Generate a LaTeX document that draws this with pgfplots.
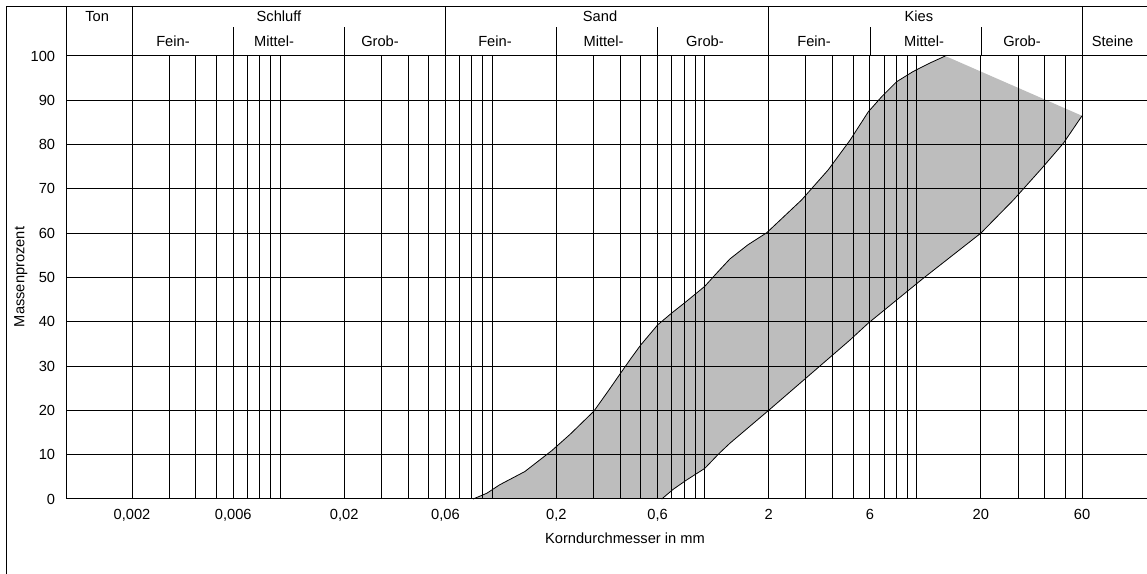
\documentclass[border=0pt]{standalone}
\usepackage{fontspec}
\setmainfont{Liberation Sans}
\usepackage{pgfplots}
\pgfplotsset{compat=1.18}
\definecolor{fillgray}{RGB}{189,189,189}
\begin{document}
\fontsize{11pt}{13pt}\selectfont
\begin{tikzpicture}[line width=0.75pt]
\path[use as bounding box] (-49.725pt,-56.25pt) rectangle (810.525pt,374.25pt);
\begin{axis}[
  at={(0pt,0pt)}, anchor=south west,
  scale only axis, width=815.25pt, height=332.25pt,
  xmode=log, xmin=0.00098, xmax=130, ymin=0, ymax=100,
  xtick={0.002,0.006,0.02,0.06,0.2,0.6,2,6,20,60},
  xticklabels={{0,002},{0,006},{0,02},{0,06},{0,2},{0,6},2,6,20,60},
  minor xtick={0.003,0.004,0.005,0.007,0.008,0.009,0.01,0.03,0.04,0.05,0.07,0.08,0.09,0.1,0.3,0.4,0.5,0.7,0.8,0.9,1,3,4,5,7,8,9,10,30,40,50},
  ytick={0,10,...,100},
  grid=both,
  major grid style={black, line width=0.75pt},
  minor grid style={black, line width=0.75pt},
  major tick length=0pt, minor tick length=0pt,
  axis line style={black, line width=0.75pt},
  axis on top,
  clip=false,
  xticklabel style={yshift=-3.5pt},
  yticklabel style={xshift=-4.5pt},
  /pgf/number format/assume math mode=true,
]
% filled band
\addplot[fill=fillgray, draw=none] coordinates {
 (0.081,0) (0.094,1.3) (0.108,3.2) (0.142,6.2) (0.19,10.9) (0.232,14.6)
 (0.3,19.8) (0.35,24.3) (0.4,28.3) (0.45,31.8) (0.5,34.8) (0.6,39.3)
 (0.7,42.0) (0.8,44.2) (0.9,46.2) (1.0,48.0) (1.17,51.6) (1.315,54.2)
 (1.6,57.4) (1.96,60.1)
 (2.86,67.5) (3.82,74.3) (4.84,81.0) (5.90,87.4) (6.82,90.8) (8.03,94.2)
 (9.6,96.5) (11.5,98.4) (13.6,100)
 (60,86.5) (49,80.3) (38.7,74.6) (28.5,67.5) (20,60) (10.7,49.8) (5.9,39.7)
 (4.84,35.9) (2,20) (1.315,12.6) (1.17,10.3) (1.0,6.9) (0.822,4.3) (0.711,2.2) (0.627,0)
} -- cycle;
% upper envelope
\addplot[black, line width=0.6pt] coordinates {
 (0.081,0) (0.094,1.3) (0.108,3.2) (0.142,6.2) (0.19,10.9) (0.232,14.6)
 (0.3,19.8) (0.35,24.3) (0.4,28.3) (0.45,31.8) (0.5,34.8) (0.6,39.3)
 (0.7,42.0) (0.8,44.2) (0.9,46.2) (1.0,48.0) (1.17,51.6) (1.315,54.2)
 (1.6,57.4) (1.96,60.1)
 (2.86,67.5) (3.82,74.3) (4.84,81.0) (5.90,87.4) (6.82,90.8) (8.03,94.2)
 (9.6,96.5) (11.5,98.4) (13.6,100)
};
% lower envelope
\addplot[black, line width=0.6pt] coordinates {
 (60,86.5) (49,80.3) (38.7,74.6) (28.5,67.5) (20,60) (10.7,49.8) (5.9,39.7)
 (4.84,35.9) (2,20) (1.315,12.6) (1.17,10.3) (1.0,6.9) (0.822,4.3) (0.711,2.2) (0.627,0)
};
% header dividers
\draw[black] (axis cs:0.00098,100) -- (axis cs:0.00098,111.17);
\draw[black] (axis cs:0.002,100) -- (axis cs:0.002,111.17);
\draw[black] (axis cs:0.06,100) -- (axis cs:0.06,111.17);
\draw[black] (axis cs:2,100) -- (axis cs:2,111.17);
\draw[black] (axis cs:60,100) -- (axis cs:60,111.17);
\draw[black] (axis cs:0.006,100) -- (axis cs:0.006,106.55);
\draw[black] (axis cs:0.02,100) -- (axis cs:0.02,106.55);
\draw[black] (axis cs:0.2,100) -- (axis cs:0.2,106.55);
\draw[black] (axis cs:0.6,100) -- (axis cs:0.6,106.55);
\draw[black] (axis cs:6,100) -- (axis cs:6,106.55);
\draw[black] (axis cs:20,100) -- (axis cs:20,106.55);
\end{axis}
% outer frame
\draw[black] (-44.85pt,-80pt) -- (-44.85pt,369.4pt) -- (840pt,369.4pt);
% header texts
\foreach \x/\t in {23.1/Ton,159.5/Schluff,400.3/Sand,639.5/Kies}
  {\node[anchor=base, inner sep=0pt] at (\x pt,358pt) {\t};}
\foreach \x/\t in {80.0/Fein-,155.8/Mittel-,235.3/Grob-,321.5/Fein-,402.9/Mittel-,479.0/Grob-,560.8/Fein-,643.3/Mittel-,716.8/Grob-,784.7/Steine}
  {\node[anchor=base, inner sep=0pt] at (\x pt,339.2pt) {\t};}
% axis labels
\node[anchor=base, inner sep=0pt] at (419pt,-33.4pt) {Korndurchmesser in mm};
\node[rotate=90, inner sep=0pt] at (-34pt,166.5pt) {Massenprozent};
\end{tikzpicture}
\end{document}
